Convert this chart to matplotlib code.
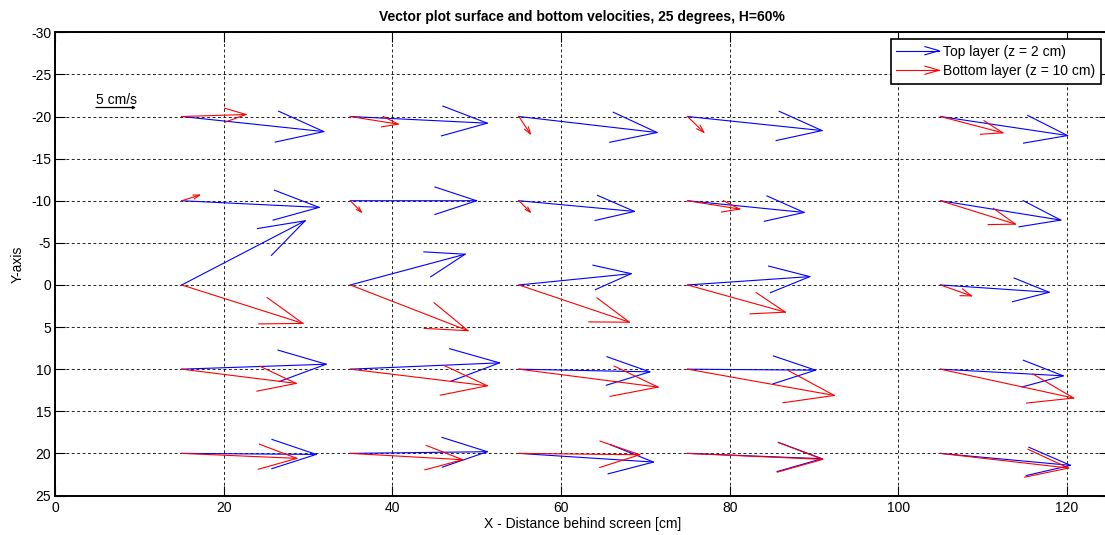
import matplotlib
matplotlib.use('Agg')
import matplotlib.pyplot as plt
from matplotlib.lines import Line2D
from matplotlib.legend_handler import HandlerBase
import numpy as np

plt.rcParams['font.family'] = ['Liberation Sans', 'DejaVu Sans']
plt.rcParams['font.size'] = 10
plt.rcParams['axes.unicode_minus'] = False

# grid of measuring points
x_pos = [15, 35, 55, 75, 105]
y_pos = [-20, -10, 0, 10, 20]

# top layer (z = 2 cm); rows follow y_pos, columns follow x_pos
top_u = [
    [16.85, 16.25, 16.39, 15.96, 15.09],
    [16.30, 14.98, 13.70, 13.83, 14.28],
    [14.64, 13.62, 13.32, 14.51, 12.91],
    [17.14, 17.70, 15.53, 15.19, 14.57],
    [15.96, 16.25, 15.96, 15.96, 15.43],
]
top_v = [
    [1.79, 0.79, 1.90, 1.67, 2.26],
    [0.79, 0.00, 1.27, 1.39, 2.30],
    [-7.62, -3.65, -1.34, -0.99, 0.87],
    [-0.59, -0.75, 0.32, 0.12, 0.79],
    [0.12, -0.20, 1.03, 0.63, 1.42],
]

# bottom layer (z = 10 cm)
bot_u = [
    [7.63, 5.68, 1.35, 1.93, 7.41],
    [2.11, 1.31, 1.35, 6.19, 8.91],
    [14.38, 13.96, 13.10, 11.61, 3.70],
    [13.58, 16.25, 16.51, 17.41, 15.81],
    [13.66, 13.32, 14.34, 16.04, 15.21],
]
bot_v = [
    [-0.24, 0.91, 2.06, 1.87, 1.94],
    [-0.67, 1.35, 1.35, 0.99, 2.78],
    [4.57, 5.43, 4.42, 3.23, 1.30],
    [1.69, 1.97, 2.13, 3.12, 3.43],
    [0.59, 0.75, 0.16, 0.71, 1.74],
]

# reference arrow: 5 cm/s drawn in plot units
ref_label = '5 cm/s'
ref_len = 4.74
ref_x, ref_y = 4.83, -21.07


def matlab_quiver(ax, X, Y, U, V, color, alpha=0.33, beta=0.33):
    # open arrowheads the way MATLAB's quiver builds them
    X, Y, U, V = [np.ravel(a).astype(float) for a in (X, Y, U, V)]
    tx, ty = X + U, Y + V
    nan = np.full_like(X, np.nan)
    sx = np.column_stack([X, tx, nan]).ravel()
    sy = np.column_stack([Y, ty, nan]).ravel()
    hx = np.column_stack([tx - alpha * (U + beta * V), tx,
                          tx - alpha * (U - beta * V), nan]).ravel()
    hy = np.column_stack([ty - alpha * (V - beta * U), ty,
                          ty - alpha * (V + beta * U), nan]).ravel()
    ax.plot(sx, sy, color=color, lw=0.8, zorder=3)
    ax.plot(hx, hy, color=color, lw=0.8, zorder=3)


class ArrowHandler(HandlerBase):
    def create_artists(self, legend, orig_handle, xdescent, ydescent,
                       width, height, fontsize, trans):
        c = orig_handle.get_color()
        y = height / 2 - ydescent
        x0, x1 = -xdescent, -xdescent + width
        hl = 0.33 * width
        shaft = Line2D([x0, x1], [y, y], color=c, lw=0.8, transform=trans)
        head = Line2D([x1 - hl, x1, x1 - hl], [y + 0.42 * height, y, y - 0.42 * height],
                      color=c, lw=0.8, transform=trans)
        return [shaft, head]


fig = plt.figure(figsize=(11.05, 5.35), dpi=100)
W, H = 1105, 535
ax = fig.add_axes([55.3 / W, 1 - 495.5 / H, (1109 - 55.3) / W, (495.5 - 32.3) / H])

XX, YY = np.meshgrid(x_pos, y_pos)
matlab_quiver(ax, XX, YY, top_u, top_v, 'blue')
matlab_quiver(ax, XX, YY, bot_u, bot_v, 'red')

# scale arrow
ax.annotate('', xy=(ref_x + ref_len, ref_y), xytext=(ref_x, ref_y),
            arrowprops=dict(arrowstyle='-|>', color='black', lw=0.9,
                            mutation_scale=4, shrinkA=0, shrinkB=0))
ax.text(ref_x, ref_y - 0.4, ref_label, ha='left', va='baseline', fontsize=10)

ax.set_xlim(0, 125)
ax.set_ylim(25, -30)
ax.set_xticks(np.arange(0, 121, 20))
ax.set_yticks(np.arange(-30, 26, 5))
ax.grid(True, color='black', linestyle=(0, (3.5, 3)), lw=0.6)
ax.set_axisbelow(True)
ax.tick_params(direction='in', top=True, right=True, length=7.5, width=0.8,
               labelsize=10)
ax.tick_params(axis='x', pad=4)
ax.tick_params(axis='y', pad=3)
for s in ax.spines.values():
    s.set_linewidth(1.4)

ax.set_title('Vector plot surface and bottom velocities, 25 degrees, H=60%',
             fontsize=10, fontweight='bold', pad=8)
ax.set_xlabel('X - Distance behind screen [cm]', fontsize=10)
ax.set_ylabel('Y-axis', fontsize=10)
ax.xaxis.set_label_coords(0.5, -0.046)
ax.yaxis.set_label_coords(-0.029, 0.5)

handles = [Line2D([], [], color='blue'), Line2D([], [], color='red')]
leg = ax.legend(handles, ['Top layer (z = 2 cm)', 'Bottom layer (z = 10 cm)'],
                handler_map={Line2D: ArrowHandler()},
                loc='upper right', bbox_to_anchor=(1101 / W, 1 - 39 / H),
                bbox_transform=fig.transFigure, fontsize=10,
                fancybox=False, framealpha=1, edgecolor='black',
                handlelength=3.1, handletextpad=0.3, borderaxespad=0,
                borderpad=0.4, labelspacing=0.4)
leg.get_frame().set_linewidth(1.2)

fig.savefig('out.png', dpi=100)
